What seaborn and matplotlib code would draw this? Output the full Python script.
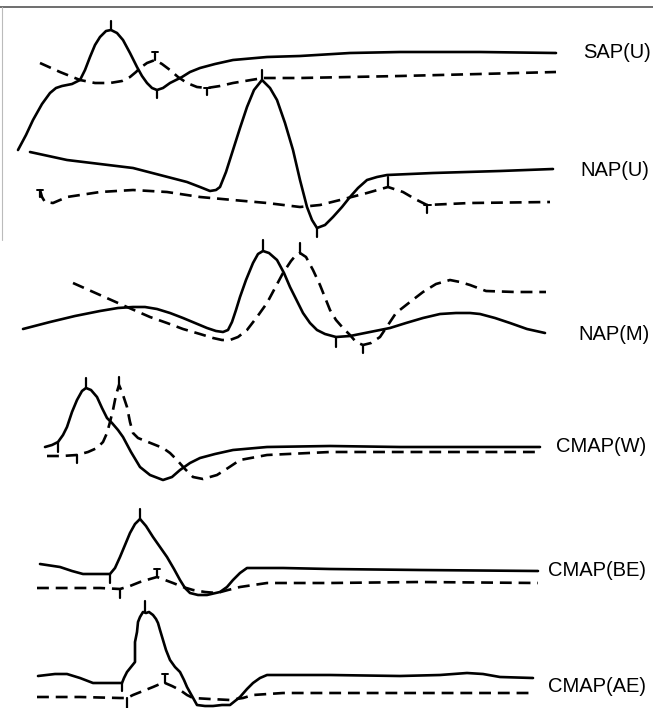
import matplotlib
matplotlib.use("Agg")
import matplotlib.pyplot as plt
import seaborn as sns
import pandas as pd

sns.set_theme(style="white")
plt.rcParams['font.family'] = ['Liberation Sans', 'DejaVu Sans']

# ---- traces: (time, level) pairs (downward = larger level) ----
sap_u_solid = [(18,150),(26,135),(33,120),(42,104),(50,93),(56,88),(62,86),(72,84),(80,80),(85,70),
               (90,57),(95,45),(100,37),(106,31),(111,30),(117,33),(123,40),(130,53),(137,67),(142,76),
               (147,83),(152,88),(157,90),(163,88),(170,83),(176,80),(182,77),(190,72),(200,68),(215,64),
               (233,60),(267,57),(300,56),(350,53),(400,52),(480,52),(556,53)]
sap_u_dash = [(40,63),(60,72),(80,80),(95,83),(110,83),(122,81),(130,77),(136,72),(140,68),(147,63),
              (155,60),(162,64),(170,70),(178,77),(187,83),(197,87),(207,88),(220,86),(233,83),(263,78),
              (300,78),(400,76),(480,74),(556,72)]
nap_u_solid = [(30,152),(67,160),(100,164),(133,168),(160,175),(187,182),(200,187),(210,191),(216,190),
               (220,187),(226,172),(233,150),(240,128),(247,107),(254,90),(262,80),(270,88),(277,100),
               (285,123),(293,150),(300,180),(307,207),(312,220),(317,228),(325,225),(333,217),(342,207),
               (350,197),(358,188),(367,180),(377,177),(387,175),(433,173),(500,171),(553,169)]
nap_u_dash = [(40,190),(42,197),(45,202),(53,203),(60,200),(67,197),(100,192),(133,190),(167,192),
              (200,197),(233,200),(267,203),(300,207),(320,205),(340,200),(367,193),(388,187),
              (403,192),(415,199),(427,205),(470,203),(550,202)]
nap_m_solid = [(23,329),(50,322),(75,316),(100,311),(118,308),(133,307),(145,307),(157,309),(170,313),
               (183,318),(195,323),(207,328),(216,331),(223,332),(228,330),(232,322),(236,310),(240,297),
               (246,280),(253,263),(258,254),(263,251),(269,253),(277,260),(284,273),(290,287),(297,301),
               (303,313),(310,323),(317,330),(325,334),(336,337),(350,336),(370,332),(390,328),(406,323),
               (423,318),(440,314),(456,313),(470,313),(480,314),(495,318),(510,323),(527,329),(545,333)]
nap_m_dash = [(73,283),(100,295),(127,307),(150,317),(167,323),(183,329),(200,334),(213,338),(222,340),
              (230,340),(238,337),(247,330),(257,317),(267,303),(275,288),(283,273),(291,261),(296,255),
              (300,253),(306,257),(313,270),(320,285),(326,300),(330,310),(336,320),(343,328),(350,335),
              (356,342),(363,345),(371,343),(380,337),(388,325),(396,313),(410,302),(423,292),(436,284),
              (450,280),(460,282),(470,285),(486,291),(515,292),(546,292)]
cmap_w_solid = [(45,447),(52,445),(58,442),(63,435),(67,427),(72,412),(77,400),(82,391),(86,388),
                (91,390),(97,397),(102,408),(107,418),(112,423),(118,430),(123,437),(131,452),(140,467),
                (150,475),(163,480),(172,477),(180,470),(190,463),(200,458),(215,454),(233,450),
                (267,447),(330,446),(400,447),(470,447),(540,447)]
cmap_w_dash = [(47,456),(62,456),(77,455),(88,452),(97,448),(103,442),(107,433),(110,422),(113,410),
               (116,395),(119,385),(122,392),(127,407),(130,422),(133,433),(138,438),(143,440),(153,444),
               (163,448),(170,453),(177,460),(185,469),(193,477),(203,479),(217,475),(228,468),(240,460),
               (267,455),(330,452),(400,452),(470,452),(540,452)]
cmap_be_solid = [(40,564),(60,567),(72,571),(83,574),(110,574),(115,568),(120,557),(125,545),(130,533),
                 (135,524),(140,519),(146,526),(153,537),(160,547),(167,557),(174,569),(180,580),(185,588),
                 (190,593),(198,595),(207,595),(220,592),(227,587),(233,580),(240,573),(247,568),(283,568),
                 (330,569),(420,570),(538,571)]
cmap_be_dash = [(37,588),(70,588),(100,588),(120,589),(130,586),(140,582),(150,579),(157,577),(165,580),
                (173,583),(183,587),(193,590),(205,592),(217,593),(228,590),(240,587),(267,583),(330,583),
                (420,582),(538,583)]
cmap_ae_solid = [(38,676),(55,674),(67,674),(80,678),(93,683),(110,683),(122,683),(124,678),(127,672),
                 (131,667),(135,662),(135,652),(135,642),(137,632),(138,622),(140,617),(143,612),(146,613),
                 (149,612),(153,615),(156,619),(158,623),(160,630),(163,640),(166,650),(170,660),(175,667),
                 (180,672),(184,680),(187,687),(192,696),(197,705),(205,706),(213,706),(222,705),(230,705),
                 (235,701),(240,697),(247,689),(253,683),(260,678),(267,675),(330,675),(400,676),(440,675),
                 (467,673),(483,674),(500,677),(533,678)]
cmap_ae_dash = [(37,697),(80,697),(120,698),(127,698),(133,695),(143,691),(153,687),(160,684),(165,683),
                (172,686),(180,690),(187,695),(193,698),(210,699),(230,700),(243,698),(253,695),(283,693),
                (330,693),(420,693),(533,693)]

# small latency marks: (time, level_from, level_to)
marks = [(111,21,30),(157,90,98),(155,52,60),(207,88,95),
         (262,70,80),(317,228,237),(388,177,187),(427,205,213),(40,190,197),
         (263,240,251),(336,337,347),(300,243,253),(363,345,353),
         (58,442,452),(86,378,388),(77,455,463),(119,377,385),
         (110,574,583),(140,509,519),(120,589,598),(157,569,577),
         (122,683,691),(145,601,612),(127,698,708),(165,674,683)]
# short caps at the start of marks (the little T shapes)
caps = [(204,210,88),(424,431,205),(37,43,190),(154,160,569),(162,168,674),(152,158,52)]

labels = ["SAP(U)", "NAP(U)", "NAP(M)", "CMAP(W)", "CMAP(BE)", "CMAP(AE)"]
label_pos = [(583,52),(580,170),(578,335),(556,446),(548,571),(548,687)]

solid_traces = [sap_u_solid, nap_u_solid, nap_m_solid, cmap_w_solid, cmap_be_solid, cmap_ae_solid]
dash_traces = [sap_u_dash, nap_u_dash, nap_m_dash, cmap_w_dash, cmap_be_dash, cmap_ae_dash]

fig = plt.figure(figsize=(6.53, 7.08), dpi=100)
ax = fig.add_axes([0, 0, 1, 1])
ax.set_xlim(0, 653)
ax.set_ylim(708, 0)
ax.axis("off")

for tr in solid_traces:
    df = pd.DataFrame(tr, columns=["t", "v"])
    sns.lineplot(data=df, x="t", y="v", sort=False, estimator=None, color="black",
                 lw=1.9, ax=ax, solid_joinstyle="round", solid_capstyle="round")
for tr in dash_traces:
    df = pd.DataFrame(tr, columns=["t", "v"])
    sns.lineplot(data=df, x="t", y="v", sort=False, estimator=None, color="black",
                 lw=1.9, linestyle=(0, (4.5, 2.6)), ax=ax)

for (t, a, b) in marks:
    ax.plot([t, t], [a, b], color="black", lw=1.6)
for (a, b, v) in caps:
    ax.plot([a, b], [v, v], color="black", lw=1.4)

# frame remnants of the scan
ax.plot([0, 653], [7, 7], color="#555555", lw=1.2)
ax.plot([2, 2], [7, 240], color="#bbbbbb", lw=0.8)

for lab, (x, y) in zip(labels, label_pos):
    ax.text(x, y, lab, fontsize=14.5, va="center", ha="left", color="black")

ax.set_xlabel("")
ax.set_ylabel("")
fig.savefig("out.png", dpi=100)
